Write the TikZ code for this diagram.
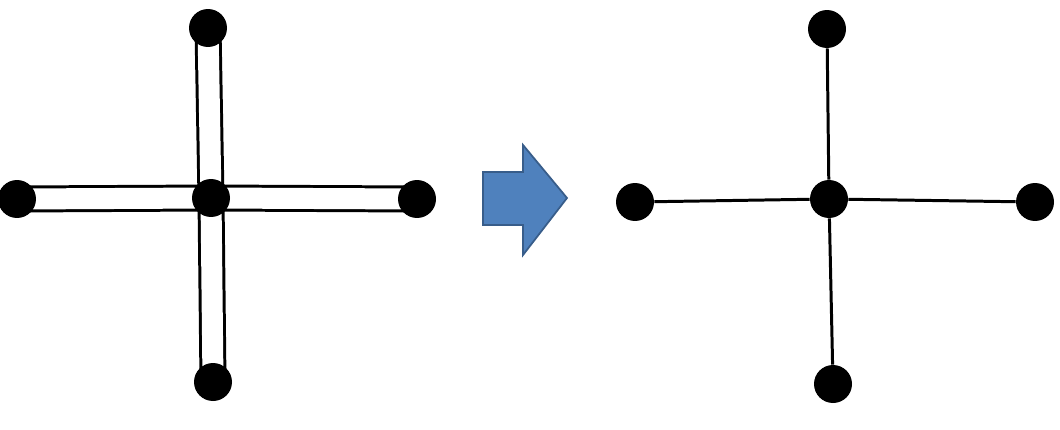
\documentclass[tikz,border=0pt]{standalone}
\usetikzlibrary{backgrounds}
\definecolor{arrowfill}{HTML}{4F81BD}
\definecolor{arrowline}{HTML}{385D8A}
\tikzset{
  dot/.style={circle,fill=black,inner sep=0pt,minimum size=0.76cm},
  twin/.style={line width=1.7pt,double,double distance=0.42cm},
  single/.style={line width=1.7pt}
}
\begin{document}
\begin{tikzpicture}[x=0.02cm,y=-0.02cm]
\useasboundingbox (0,0) rectangle (1060,429);
% before
\node[dot] (lt) at (208,28) {};
\node[dot] (ll) at (17,199) {};
\node[dot] (lc) at (211,198) {};
\node[dot] (lr) at (417,199) {};
\node[dot] (lb) at (213,382) {};
\begin{scope}[on background layer]
\foreach \n in {lt,ll,lr,lb}
\draw[twin] (lc.center) -- (\n.center);
\end{scope}
% arrow
\filldraw[fill=arrowfill,draw=arrowline,line width=1pt]
  (483,172) -- (523,172) -- (523,145) -- (567,198) -- (523,255) -- (523,225) -- (483,225) -- cycle;
% after
\node[dot] (rt) at (827,29) {};
\node[dot] (rl) at (635,202) {};
\node[dot] (rc) at (829,199) {};
\node[dot] (rr) at (1035,202) {};
\node[dot] (rb) at (833,384) {};
\foreach \n in {rt,rl,rr,rb}
\draw[single] (rc) -- (\n);
\end{tikzpicture}
\end{document}
